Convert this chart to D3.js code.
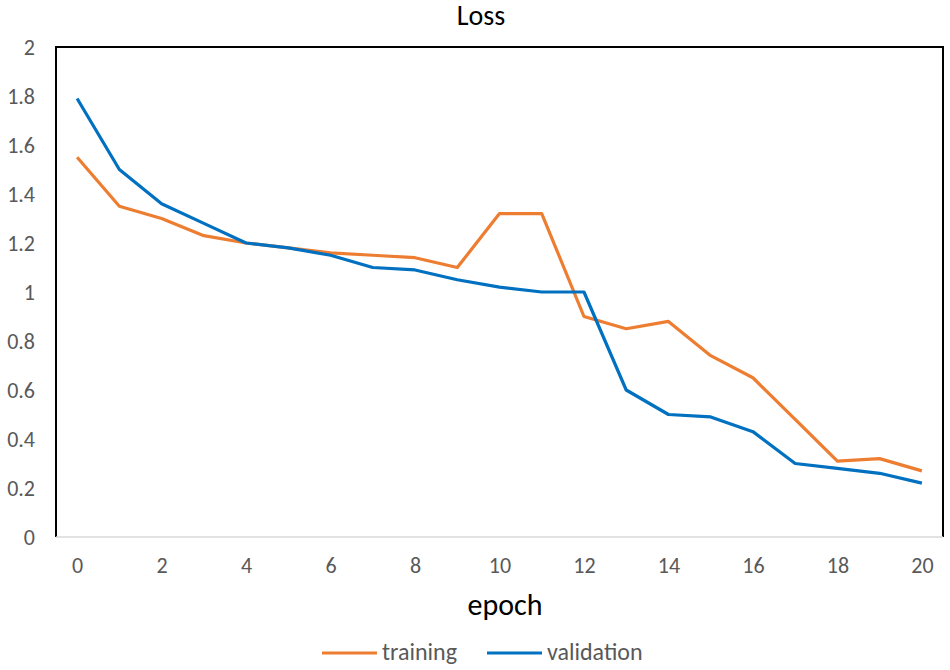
<!DOCTYPE html>
<html>
<head>
<meta charset="utf-8">
<script src="https://cdn.jsdelivr.net/npm/d3@7"></script>
<style>
    body { margin: 0; background: #fff; }
    text { font-family: Carlito, "Open Sans", "Liberation Sans", sans-serif; }
</style>
</head>
<body>
<div id="chart"></div>
<script>
// Data
var epochs = d3.range( 0, 21 );
var training = [ 1.55, 1.35, 1.30, 1.23, 1.20, 1.18, 1.16, 1.15, 1.14, 1.10, 1.32,
                 1.32, 0.90, 0.85, 0.88, 0.74, 0.65, 0.48, 0.31, 0.32, 0.27 ];
var validation = [ 1.79, 1.50, 1.36, 1.28, 1.20, 1.18, 1.15, 1.10, 1.09, 1.05, 1.02,
                   1.00, 1.00, 0.60, 0.50, 0.49, 0.43, 0.30, 0.28, 0.26, 0.22 ];
var xTicks = [ 0, 2, 4, 6, 8, 10, 12, 14, 16, 18, 20 ];
var yTicks = [ 0, 0.2, 0.4, 0.6, 0.8, 1, 1.2, 1.4, 1.6, 1.8, 2 ];
var series = [
    { name: 'training', values: training, color: '#ED7D31' },
    { name: 'validation', values: validation, color: '#0070C0' }
];

var W = 950, H = 670,
    pLeft = 56, pRight = 943, pTop = 47, pBottom = 537;

var svg = d3.select( '#chart' )
    .append( 'svg' )
    .attr( 'width', W )
    .attr( 'height', H );

var x = d3.scaleLinear().domain( [ -0.5, 20.5 ] ).range( [ pLeft, pRight ] ),
    y = d3.scaleLinear().domain( [ 0, 2 ] ).range( [ pBottom, pTop ] );

// frame: black on top/left/right, grey base line
svg.append( 'path' )
    .attr( 'd', 'M' + pLeft + ' ' + pBottom + ' V' + pTop + ' H' + pRight + ' V' + pBottom )
    .attr( 'fill', 'none' )
    .attr( 'stroke', '#000' )
    .attr( 'stroke-width', 2 );
svg.append( 'line' )
    .attr( 'x1', pLeft ).attr( 'x2', pRight )
    .attr( 'y1', pBottom ).attr( 'y2', pBottom )
    .attr( 'stroke', '#d9d9d9' )
    .attr( 'stroke-width', 1.5 );

// y axis labels
var yAxis = svg.append( 'g' )
    .attr( 'transform', 'translate(' + ( pLeft - 21 ) + ',0)' )
    .call( d3.axisLeft( y ).tickValues( yTicks ).tickSize( 0 ).tickPadding( 0 ).tickFormat( d3.format( '' ) ) );
yAxis.select( '.domain' ).remove();
yAxis.selectAll( 'text' )
    .attr( 'fill', '#595959' )
    .style( 'font-size', '22px' );

// x axis labels
var xAxis = svg.append( 'g' )
    .attr( 'transform', 'translate(0,' + ( pBottom + 20 ) + ')' )
    .call( d3.axisBottom( x ).tickValues( xTicks ).tickSize( 0 ).tickPadding( 0 ) );
xAxis.select( '.domain' ).remove();
xAxis.selectAll( 'text' )
    .attr( 'fill', '#595959' )
    .style( 'font-size', '22px' );

// lines
var line = d3.line()
    .x( ( d, i ) => x( epochs[ i ] ) )
    .y( d => y( d ) );

series.forEach( s => {
    svg.append( 'path' )
        .attr( 'd', line( s.values ) )
        .attr( 'fill', 'none' )
        .attr( 'stroke', s.color )
        .attr( 'stroke-width', 3.2 )
        .attr( 'stroke-linejoin', 'round' );
} );

// title + axis title
svg.append( 'text' )
    .attr( 'x', 481 ).attr( 'y', 25 )
    .attr( 'text-anchor', 'middle' )
    .style( 'font-size', '28px' )
    .attr( 'fill', '#000' )
    .text( 'Loss' );

svg.append( 'text' )
    .attr( 'x', 505 ).attr( 'y', 615 )
    .attr( 'text-anchor', 'middle' )
    .style( 'font-size', '30px' )
    .attr( 'fill', '#000' )
    .text( 'epoch' );

// legend
var legendX = [ 322, 487 ];
series.forEach( ( s, i ) => {
    var g = svg.append( 'g' ).attr( 'transform', 'translate(' + legendX[ i ] + ',653)' );
    g.append( 'line' )
        .attr( 'x1', 0 ).attr( 'x2', 55 )
        .attr( 'stroke', s.color )
        .attr( 'stroke-width', 3.2 );
    g.append( 'text' )
        .attr( 'x', 60 ).attr( 'y', 7 )
        .attr( 'fill', '#595959' )
        .style( 'font-size', '24px' )
        .text( s.name );
} );
</script>
</body>
</html>
